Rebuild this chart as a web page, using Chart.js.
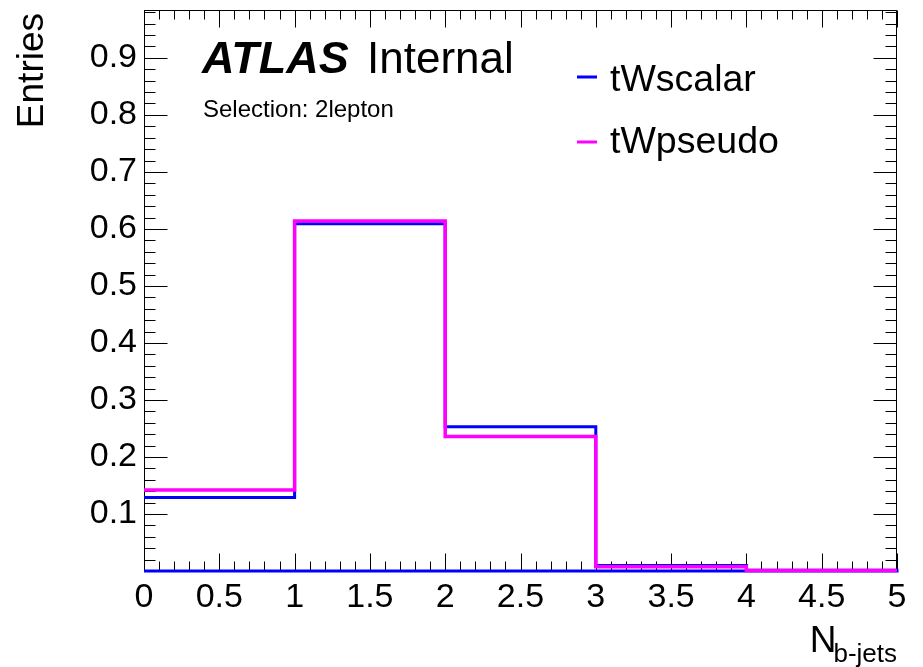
<!DOCTYPE html>
<html><head><meta charset="utf-8">
<script src="https://cdn.jsdelivr.net/npm/chart.js@4/dist/chart.umd.min.js"></script>
<style>html,body{margin:0;padding:0;background:#fff}#wrap{width:923px;height:667px}</style>
</head><body><div id="wrap"><canvas id="c" width="923" height="667"></canvas></div>
<script>
// ---- data ----
const binEdges = [0, 1, 2, 3, 4, 5];
const tWscalar = [0.129, 0.609, 0.253, 0.0095, 0.0015];
const tWpseudo = [0.142, 0.614, 0.236, 0.0075, 0.001];
const seriesNames = ['tWscalar', 'tWpseudo'];
const seriesColors = ['#0000ff', '#ff00ff'];
const xTickStep = 0.5;
const yTickStep = 0.1;
const xRange = [0, 5];
const yRange = [0, 0.984];
const xTitleMain = 'N';
const xTitleSub = 'b-jets';
const yTitle = 'Entries';

const FONT = '"Liberation Sans", Arial, Helvetica, sans-serif';

function stepPoints(edges, vals, closeBase) {
  const pts = [];
  vals.forEach((v, i) => { pts.push({x: edges[i], y: v}); pts.push({x: edges[i + 1], y: v}); });
  if (closeBase) { pts.push({x: edges[edges.length - 1], y: 0}); pts.push({x: edges[0], y: 0}); }
  return pts;
}

const framePlugin = {
  id: 'frame',
  beforeDatasetsDraw(chart) {
    const {ctx, chartArea: a, scales: {x, y}} = chart;
    ctx.save();
    ctx.strokeStyle = '#000';
    ctx.lineWidth = 1;
    const L = Math.round(a.left) + 0.5, R = Math.round(a.right) - 0.5;
    const T = Math.round(a.top) + 0.5, B = Math.round(a.bottom) - 0.5;
    ctx.strokeRect(L, T, R - L, B - T);
    ctx.beginPath();
    const nx = Math.round((xRange[1] - xRange[0]) / (xTickStep / 5));
    for (let i = 0; i <= nx; i++) {
      const v = xRange[0] + i * xTickStep / 5;
      const px = Math.round(x.getPixelForValue(v)) + 0.5;
      const len = (i % 5 === 0) ? 17 : 9;
      ctx.moveTo(px, B); ctx.lineTo(px, B - len);
      ctx.moveTo(px, T); ctx.lineTo(px, T + len);
    }
    for (let i = 0; ; i++) {
      const v = yRange[0] + i * yTickStep / 5;
      if (v > yRange[1] + 1e-9) break;
      const py = Math.round(y.getPixelForValue(v)) + 0.5;
      const len = (i % 5 === 0) ? 23 : 11;
      ctx.moveTo(L, py); ctx.lineTo(L + len, py);
      ctx.moveTo(R, py); ctx.lineTo(R - len, py);
    }
    ctx.stroke();
    ctx.restore();
  },
  afterDraw(chart) {
    const {ctx, chartArea: a} = chart;
    ctx.save();
    ctx.fillStyle = '#000';
    ctx.textBaseline = 'alphabetic';
    ctx.textAlign = 'left';
    ctx.font = 'italic bold 45px ' + FONT;
    ctx.fillText('ATLAS', 202, 73);
    ctx.font = '44px ' + FONT;
    ctx.fillText('Internal', 367, 73);
    ctx.font = '24px ' + FONT;
    ctx.fillText('Selection: 2lepton', 203, 117);
    const legY = [[77, 91], [142, 153]];
    seriesNames.forEach((n, i) => {
      ctx.strokeStyle = seriesColors[i];
      ctx.lineWidth = 3;
      ctx.beginPath(); ctx.moveTo(577, legY[i][0]); ctx.lineTo(597, legY[i][0]); ctx.stroke();
      ctx.font = '37.5px ' + FONT;
      ctx.fillText(n, 610, legY[i][1]);
    });
    ctx.font = '26px ' + FONT;
    const sw = ctx.measureText(xTitleSub).width;
    ctx.font = '37px ' + FONT;
    const nw = ctx.measureText(xTitleMain).width;
    const xr = a.right;
    ctx.fillText(xTitleMain, xr - sw - nw + 3, 652);
    ctx.font = '26px ' + FONT;
    ctx.fillText(xTitleSub, xr - sw, 662);
    ctx.translate(43, 13);
    ctx.rotate(-Math.PI / 2);
    ctx.textAlign = 'right';
    ctx.font = '37px ' + FONT;
    ctx.fillText(yTitle, 0, 0);
    ctx.restore();
  }
};

new Chart(document.getElementById('c'), {
  type: 'scatter',
  data: {
    datasets: [
      {label: seriesNames[0], data: stepPoints(binEdges, tWscalar, true), borderColor: seriesColors[0],
       borderWidth: 3, showLine: true, pointRadius: 0, tension: 0, clip: 6, order: 2},
      {label: seriesNames[1], data: stepPoints(binEdges, tWpseudo, false), borderColor: seriesColors[1],
       borderWidth: 3.5, showLine: true, pointRadius: 0, tension: 0, clip: 6, order: 1}
    ]
  },
  options: {
    responsive: false,
    animation: false,
    devicePixelRatio: 1,
    layout: {padding: {top: 10, right: 26, left: 0, bottom: 0}, autoPadding: false},
    plugins: {legend: {display: false}, tooltip: {enabled: false}},
    scales: {
      x: {
        type: 'linear', min: xRange[0], max: xRange[1],
        grid: {display: false, drawTicks: false}, border: {display: false},
        ticks: {stepSize: xTickStep, includeBounds: false, autoSkip: false, maxRotation: 0,
                color: '#000', padding: 6, font: {family: FONT, size: 34},
                callback: v => String(Math.round(v * 10) / 10)},
        afterFit(s) { s.height = 96; s.paddingLeft = 0; s.paddingRight = 0; }
      },
      y: {
        type: 'linear', min: yRange[0], max: yRange[1],
        grid: {display: false, drawTicks: false}, border: {display: false},
        ticks: {stepSize: yTickStep, includeBounds: false, autoSkip: false,
                color: '#000', padding: 7, font: {family: FONT, size: 34},
                callback: v => Math.abs(v) < 1e-9 ? '' : (Math.round(v * 10) / 10).toFixed(1)},
        afterFit(s) { s.width = 144; s.paddingTop = 0; s.paddingBottom = 0; }
      }
    }
  },
  plugins: [framePlugin]
});
</script></body></html>
